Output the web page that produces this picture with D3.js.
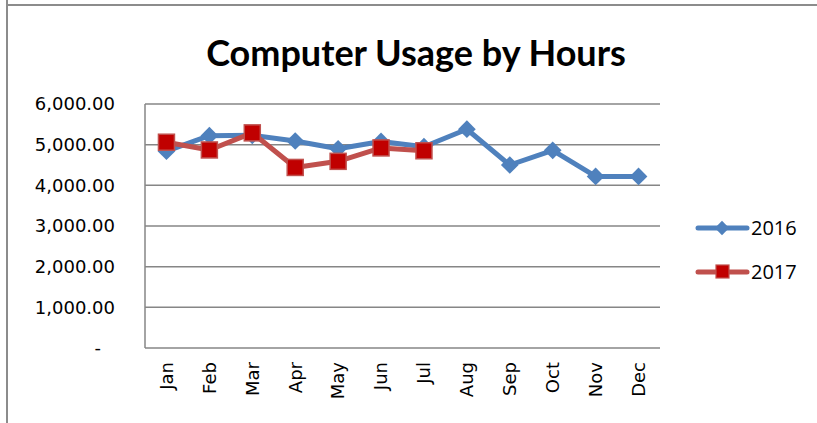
<!DOCTYPE html>
<html>
<head>
<meta charset="utf-8">
<style>
  body { margin: 0; background: #fff; }
  svg { display: block; }
  svg text { font-family: "Open Sans", sans-serif; fill: #000; }
  svg text.title { font-family: Lato, sans-serif; font-weight: bold; font-size: 36px; }
  svg text.ylab, svg text.xlab { font-family: "DejaVu Sans", sans-serif; font-size: 18px; }
  .ax path, .ax line { display: none; }
</style>
</head>
<body>
<svg width="817" height="423"></svg>
<script src="https://cdn.jsdelivr.net/npm/d3@7"></script>
<script>
var months = ['Jan','Feb','Mar','Apr','May','Jun','Jul','Aug','Sep','Oct','Nov','Dec'];
var usage2016 = [4840, 5220, 5230, 5090, 4900, 5080, 4950, 5380, 4500, 4860, 4220, 4220];
var usage2017 = [5060, 4870, 5290, 4440, 4590, 4920, 4850];
var yTicks = [0, 1000, 2000, 3000, 4000, 5000, 6000];

var plot = { left: 145, top: 104, right: 660, bottom: 348 };

var svg = d3.select('svg');

// outer frame (partly cut off)
svg.append('line').attr('x1', 7).attr('x2', 817).attr('y1', 5).attr('y2', 5)
  .attr('stroke', '#8c8c8c').attr('stroke-width', 2);
svg.append('line').attr('x1', 7).attr('x2', 7).attr('y1', 0).attr('y2', 423)
  .attr('stroke', '#8c8c8c').attr('stroke-width', 2);

svg.append('text')
  .attr('class', 'title')
  .attr('x', 416).attr('y', 66)
  .attr('text-anchor', 'middle')
  .text('Computer Usage by Hours');

var x = d3.scaleBand().domain(months).range([plot.left, plot.right]);
var y = d3.scaleLinear().domain([0, 6000]).range([plot.bottom, plot.top]);

// gridlines
svg.append('g').selectAll('line')
  .data(yTicks.slice(1))
  .enter().append('line')
  .attr('x1', plot.left).attr('x2', plot.right)
  .attr('y1', function(d) { return y(d); })
  .attr('y2', function(d) { return y(d); })
  .attr('stroke', '#868686').attr('stroke-width', 1.5);

// axis lines
svg.append('line').attr('x1', plot.left).attr('x2', plot.left)
  .attr('y1', plot.top).attr('y2', plot.bottom)
  .attr('stroke', '#868686').attr('stroke-width', 1.5);
svg.append('line').attr('x1', plot.left).attr('x2', plot.right)
  .attr('y1', plot.bottom).attr('y2', plot.bottom)
  .attr('stroke', '#868686').attr('stroke-width', 1.5);

var yFmt = function(d) { return d === 0 ? '-' : d3.format(',.2f')(d); };

// axes from d3, labels redrawn with the same scales
var yAxis = d3.axisLeft(y).tickValues(yTicks).tickSize(0).tickFormat(yFmt);
var yG = svg.append('g').attr('class', 'ax')
  .attr('transform', 'translate(' + plot.left + ',0)')
  .call(yAxis);
var xAxis = d3.axisBottom(x).tickSize(0);
var xG = svg.append('g').attr('class', 'ax')
  .attr('transform', 'translate(0,' + plot.bottom + ')')
  .call(xAxis);
yG.selectAll('text').remove();
xG.selectAll('text').remove();

var labels = svg.append('g');
labels.selectAll('text.ylab')
  .data(yTicks).enter().append('text')
  .attr('class', 'ylab')
  .attr('x', function(d) { return d === 0 ? plot.left - 44 : plot.left - 30; })
  .attr('y', function(d) { return y(d); })
  .attr('dy', '0.35em')
  .attr('text-anchor', 'end')
  .text(yFmt);

labels.selectAll('text.xlab')
  .data(months).enter().append('text')
  .attr('class', 'xlab')
  .attr('text-anchor', 'end')
  .attr('dy', '0.35em')
  .attr('transform', function(d) {
    return 'translate(' + (x(d) + x.bandwidth() / 2) + ',' + (plot.bottom + 14) + ') rotate(-90)';
  })
  .text(function(d) { return d; });

var line = d3.line()
  .x(function(d, i) { return x(months[i]) + x.bandwidth() / 2; })
  .y(function(d) { return y(d); });

svg.append('path').datum(usage2016)
  .attr('d', line).attr('fill', 'none')
  .attr('stroke', '#4f81bd').attr('stroke-width', 5).attr('stroke-linejoin', 'round');

svg.append('g').selectAll('path')
  .data(usage2016).enter().append('path')
  .attr('d', d3.symbol().type(d3.symbolDiamond2).size(200))
  .attr('transform', function(d, i) {
    return 'translate(' + (x(months[i]) + x.bandwidth() / 2) + ',' + y(d) + ')';
  })
  .attr('fill', '#4f81bd');

svg.append('path').datum(usage2017)
  .attr('d', line).attr('fill', 'none')
  .attr('stroke', '#c0504d').attr('stroke-width', 5).attr('stroke-linejoin', 'round');

svg.append('g').selectAll('rect')
  .data(usage2017).enter().append('rect')
  .attr('x', function(d, i) { return x(months[i]) + x.bandwidth() / 2 - 8; })
  .attr('y', function(d) { return y(d) - 8; })
  .attr('width', 16).attr('height', 16)
  .attr('fill', '#c00000').attr('stroke', '#c0504d').attr('stroke-width', 1.5);

// legend
var legend = svg.append('g');
var leg = [
  { name: '2016', color: '#4f81bd', y: 228 },
  { name: '2017', color: '#c0504d', y: 272 }
];
leg.forEach(function(s, i) {
  legend.append('line').attr('x1', 698).attr('x2', 747)
    .attr('y1', s.y).attr('y2', s.y)
    .attr('stroke', s.color).attr('stroke-width', 5).attr('stroke-linecap', 'round');
  if (i === 0) {
    legend.append('path')
      .attr('d', d3.symbol().type(d3.symbolDiamond2).size(130))
      .attr('transform', 'translate(722,' + s.y + ')')
      .attr('fill', s.color);
  } else {
    legend.append('rect').attr('x', 716).attr('y', s.y - 7)
      .attr('width', 13).attr('height', 13)
      .attr('fill', '#c00000').attr('stroke', '#c0504d').attr('stroke-width', 1.2);
  }
  legend.append('text').attr('x', 751).attr('y', s.y).attr('dy', '0.35em')
    .style('font-size', '20px').text(s.name);
});
</script>
</body>
</html>
